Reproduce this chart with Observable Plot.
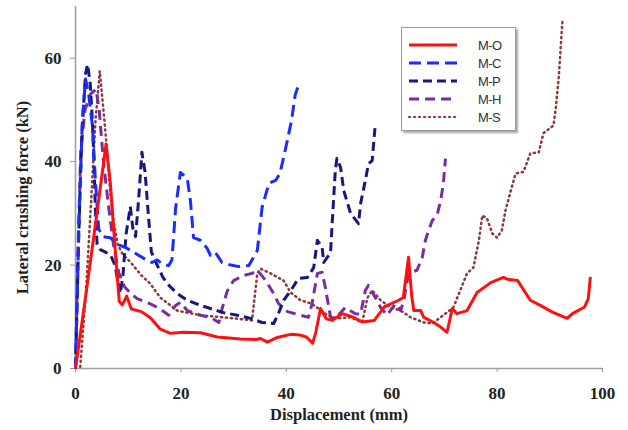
<!DOCTYPE html>
<html><head><meta charset="utf-8">
<script src="https://cdn.jsdelivr.net/npm/d3@7"></script>
<script src="https://cdn.jsdelivr.net/npm/@observablehq/plot@0.6"></script>
<style>
body{margin:0;background:#fff;}
#wrap{position:relative;width:628px;height:430px;}
#legend{position:absolute;left:401px;top:27px;width:113px;height:102px;border:1.5px solid #9a9a9a;box-shadow:2px 2px 2px rgba(0,0,0,0.35);background:#fff;}
</style></head><body><div id="wrap"></div>
<script>
const seriesNames = ["M-O", "M-C", "M-P", "M-H", "M-S"];
const seriesColors = ["#ff1010", "#1a2cff", "#17177f", "#7b2c9e", "#8b3a3a"];
const seriesDash = [null, "12,6", "9,5", "10,6", "1.2,3.8"];
const xTicks = [0, 20, 40, 60, 80, 100];
const yTicks = [0, 20, 40, 60];

const mO = [[0,0],[2,14.5],[4,29.5],[5.8,43.4],[6.6,36],[7.6,22],[8.3,13],[8.9,12.3],[9.7,14],[10.6,11.5],[12.5,11],[14.2,9.8],[16.1,7.6],[18,6.8],[20.5,7],[23.7,6.9],[26.9,6.1],[31.3,5.7],[34.3,5.6],[35.1,5.8],[36.4,5.1],[38.3,6],[40.8,6.6],[42.5,6.5],[43.8,6.1],[45,4.9],[45.6,7],[46.5,11.6],[47.6,9.6],[48.7,9.3],[50.6,10.6],[52.5,10],[54.4,9],[56.7,9.3],[58.6,11.9],[61.3,13.2],[62.2,13.7],[63.2,21.5],[63.8,14],[64.2,11.2],[65.5,11.2],[66.1,9.9],[68,8.9],[69.3,8],[70.5,7],[71.5,11.6],[72.4,10.6],[74.3,11.2],[76.2,14.7],[78.8,16.6],[81.2,17.6],[82.2,17.2],[83.9,17],[86.3,13.2],[88.2,12.2],[90.5,10.9],[93.3,9.7],[94.3,10.6],[96.6,11.9],[97.3,13.5],[97.7,17.7]];
const mC = [[0,0],[0.7,30],[1.3,48],[1.9,56],[2.5,53],[3.2,47],[3.8,36],[4.4,27],[5.2,25.5],[6.6,25.3],[8,24],[9.5,23.4],[11.5,22.2],[13.6,20.9],[14.5,20.5],[15.5,21],[16.5,20.2],[17.7,19.9],[18.3,21],[19,31],[19.9,37.9],[21.2,36.8],[21.8,32.5],[22.4,25.3],[23.7,24.8],[25,23.2],[25.6,21.9],[26.5,22.5],[27.8,20.5],[29.5,20],[31,19.7],[32.9,19.9],[34.5,22.8],[35.4,31.1],[36.7,35.8],[38,36.4],[38.8,37.7],[40.2,44.1],[41,48],[41.7,53],[42.3,54.7]];
const mP = [[0,0],[0.6,25],[1.2,45],[1.9,57],[2.3,58.8],[2.8,55],[3.2,48],[3.5,40],[3.8,30],[4.1,24],[4.7,23],[5.5,22.6],[6.6,22],[7.5,20],[8,17],[8.5,14.5],[9,18],[9.6,26],[10.4,31.3],[10.9,27],[11.4,25.5],[12,33],[12.6,41.8],[13.2,38],[13.8,30],[14.4,22.5],[15.5,20],[16.5,17.8],[17.4,16.4],[19.3,14.5],[21.2,13.2],[23.7,12.2],[25.6,11.6],[28.1,10.8],[30.7,10.3],[33.2,9.7],[35.4,8.9],[37.6,8.7],[38.5,10.6],[39.5,13.2],[40.8,15],[42.3,17.4],[44,17.6],[45.2,19.5],[45.9,24.8],[46.8,23.4],[47.1,20.5],[48.4,22.4],[48.7,28],[49.3,38.3],[49.6,40.6],[50.3,38.9],[50.9,34.4],[52.2,30],[53.7,28],[54.1,31.9],[55,36.4],[55.6,39.6],[56.3,40.2],[56.9,47.4]];
const mH = [[0,0],[0.4,20],[1,42],[1.8,50],[2.8,53],[3.9,54],[4.5,50],[5.3,40],[6.2,32],[7.2,24],[8.2,18.5],[9.3,15.8],[10.5,14.5],[11.7,13.5],[14.2,12.5],[16.1,11.5],[17.7,10.3],[19,12.2],[19.9,12.8],[21.2,11.2],[23.7,10.3],[25.6,9.9],[27.2,8.9],[27.8,11.5],[28.8,15],[30,17],[31.9,18],[33.5,18.4],[34.5,19],[36.1,17],[37.6,14.5],[38.5,12.6],[40.2,11],[42.7,10.3],[44.2,9.9],[44.9,12.6],[45.9,18.4],[46.8,18.6],[47.4,15.7],[48.4,9.9],[49.3,9.7],[51.2,11.8],[53.1,10.6],[54.1,10.5],[55,15.1],[55.6,16.1],[56.9,13.7],[57.9,11.8],[59.1,10.3],[60.7,12.5],[61.7,11.2],[62.3,13.2],[63.2,18.4],[64.8,19],[65.8,21.5],[66.4,24.8],[67,26.7],[67.7,28.6],[68.6,29.6],[69.3,32.5],[69.8,35.8],[70.2,40.6]];
const mS = [[0.9,0.3],[2,15],[3,33],[3.8,48],[4.6,57.5],[5.3,50],[6,42],[6.6,34],[7.3,28],[8,24],[9,22],[10.5,20.5],[12.5,18],[14.2,16.4],[16.1,13.7],[19.3,11.2],[23.7,10.3],[30,9.7],[33.5,9.3],[34.5,18.4],[35.1,19.3],[37,18.4],[39.5,17],[40.8,14.7],[42.7,13.2],[44.6,12.6],[46.1,11.6],[47.8,10.3],[49.6,9.7],[52.2,9.9],[54.4,8.9],[55.4,13.7],[56.3,15.1],[57.9,13.2],[59.8,11.8],[61.7,11.2],[63.6,9.9],[66.1,8.9],[67.7,8.7],[69.3,9.9],[71.7,11.8],[73,15.1],[74.3,18.4],[75.5,19.5],[76.5,24.5],[77.2,29.6],[78.1,29],[79.1,26.1],[80,25.3],[80.9,26.7],[81.6,30.6],[82.5,34],[83.5,37.7],[85,38],[86.3,41.6],[87.9,41.8],[88.8,45.5],[90.7,47],[91.1,50],[91.7,56.3],[92.4,67.3]];

const seriesPoints = [mO, mC, mP, mH, mS];
const drawOrder = [4, 3, 2, 1, 0];

const lineMarks = drawOrder.map(i => Plot.line(
  seriesPoints[i].map(([x, y]) => ({series: seriesNames[i], x, y})),
  {x: "x", y: "y", stroke: seriesColors[i], strokeWidth: i === 4 ? 2.5 : 3,
   strokeDasharray: seriesDash[i] || undefined, strokeLinecap: i === 4 ? "round" : "butt", strokeLinejoin: "round"}
));

const chart = Plot.plot({
  width: 628, height: 430,
  marginLeft: 75, marginRight: 26, marginTop: 6, marginBottom: 62,
  style: {fontFamily: "'Liberation Serif','Times New Roman',serif", color: "#222", background: "#fff"},
  x: {domain: [0, 100]},
  y: {domain: [0, 70]},
  marks: [
    Plot.axisX({ticks: xTicks, tickSize: 4, tickPadding: 14, fontSize: 17, fontWeight: "bold", stroke: "#999", label: null}),
    Plot.axisY({ticks: yTicks, tickSize: 5, tickPadding: 9, fontSize: 17, fontWeight: "bold", stroke: "#999", label: null}),
    Plot.ruleY([0], {stroke: "#a0a0a0", strokeWidth: 1.6}),
    Plot.ruleX([0], {stroke: "#a0a0a0", strokeWidth: 1.6}),
    ...lineMarks,
    Plot.text(["Displacement (mm)"], {frameAnchor: "bottom", lineAnchor: "bottom", dy: 51, fontSize: 16.5, fontWeight: "bold", fill: "#222"}),
    Plot.text(["Lateral crushing force (kN)"], {frameAnchor: "left", textAnchor: "middle", rotate: -90, dx: -53, dy: 10, fontSize: 16.5, fontWeight: "bold", fill: "#222"})
  ]
});

const wrap = document.getElementById("wrap");
wrap.appendChild(chart);

// legend overlay
const legend = document.createElement("div");
legend.id = "legend";
wrap.appendChild(legend);
const svg = d3.select(legend).append("svg").attr("width", 113).attr("height", 102);
seriesNames.forEach((name, i) => {
  const cy = 17 + i * 18;
  svg.append("line").attr("x1", 7).attr("x2", 55).attr("y1", cy).attr("y2", cy)
    .attr("stroke", seriesColors[i]).attr("stroke-width", i === 4 ? 2.2 : 3)
    .attr("stroke-dasharray", seriesDash[i])
    .attr("stroke-linecap", i === 4 ? "round" : "butt");
  svg.append("text").attr("x", 76).attr("y", cy + 5).text(name)
    .attr("font-family", "'Liberation Sans', Arial, sans-serif").attr("font-size", 13)
    .attr("letter-spacing", "-0.6").attr("fill", "#333");
});
</script>
</body></html>
